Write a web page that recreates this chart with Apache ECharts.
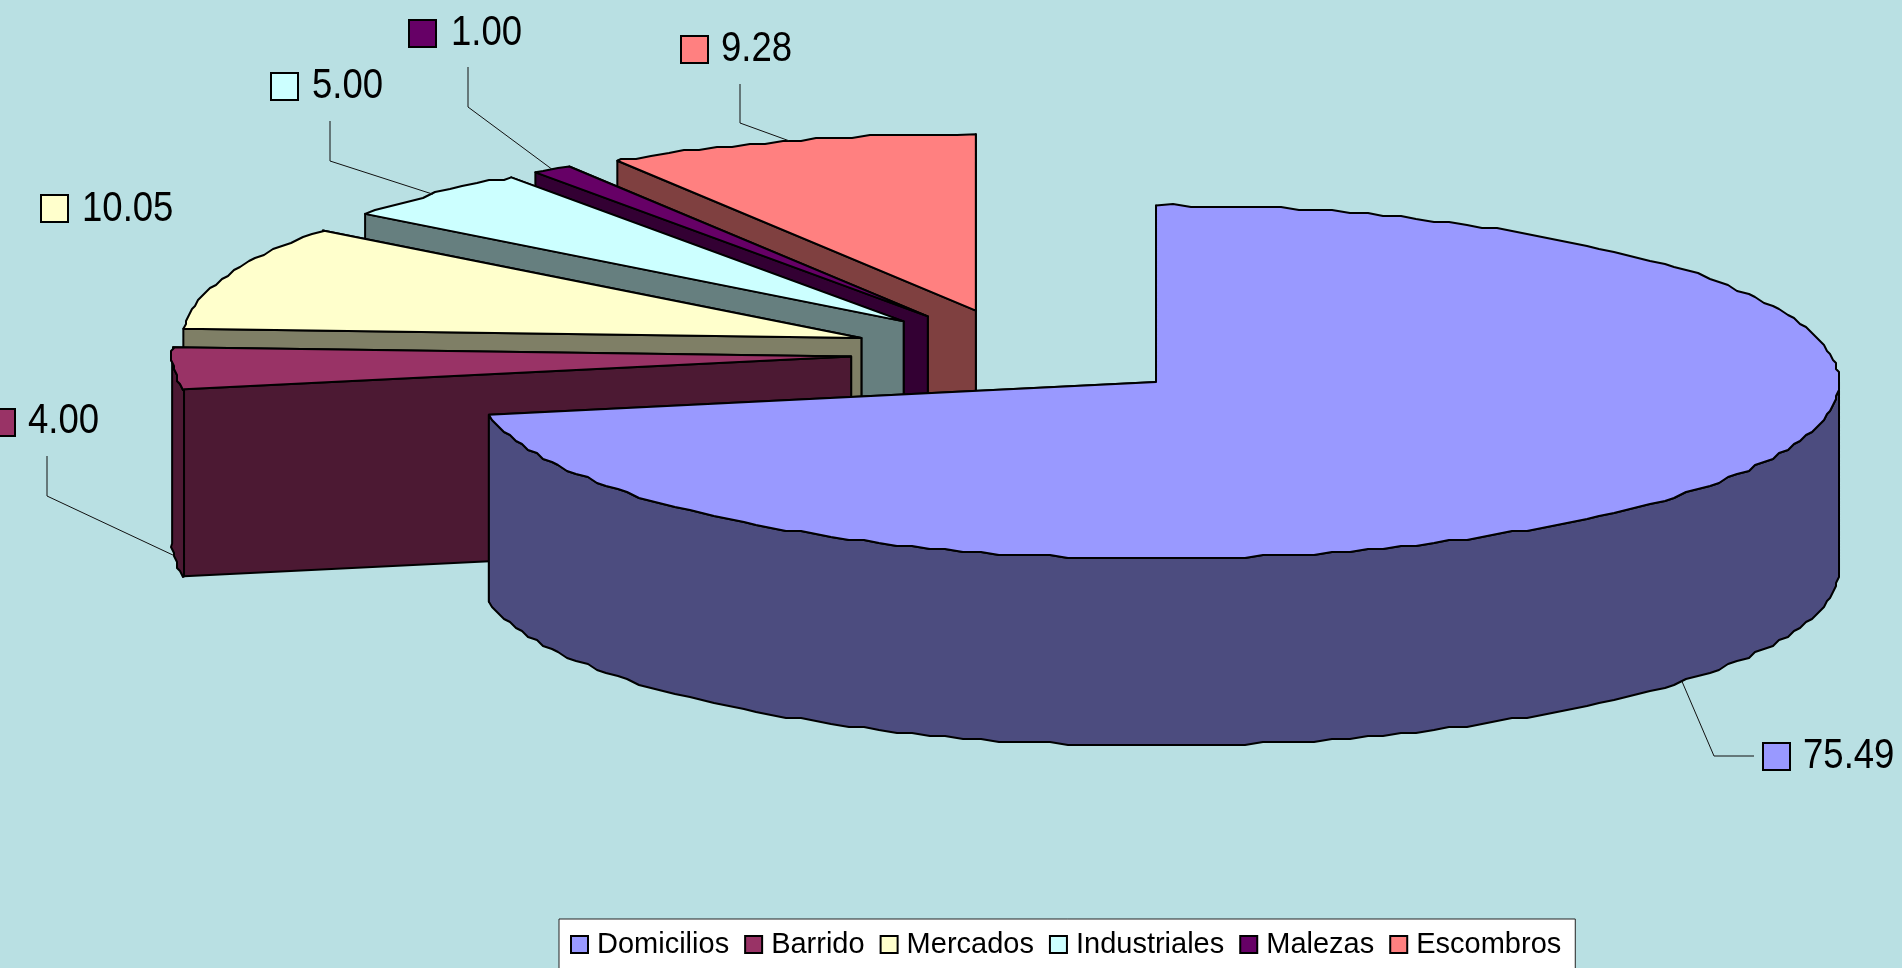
<!DOCTYPE html>
<html><head><meta charset="utf-8">
<style>html,body{margin:0;padding:0;background:#B9E0E3;overflow:hidden}#c{width:1902px;height:968px}</style>
<script src="https://cdn.jsdelivr.net/npm/echarts@6/dist/echarts.min.js"></script>
</head><body><div id="c"></div>
<script>
const categories = ['Domicilios','Barrido','Mercados','Industriales','Malezas','Escombros'];
const values = [75.49,4.00,10.05,5.00,1.00,9.28];
const topColors = ['#9999FF','#993366','#FFFFCC','#CCFFFF','#660066','#FF8080'];
const sideColors = ['#4C4C7F','#4C1933','#7F7F66','#667F7F','#330033','#7F4040'];

// layout of the projected pie (not data)
const pie = {cx:1023.2, cy:353.5, rx:683, rxLeft:679, ry:176.5, depth:187, explode:0.2525, step:1.5, snap:3};
// callout layout: key box left/top, text left, text centre y, elbow path start
const callouts = [
  {kx:1763,ky:743,tx:1803,ty:756,path:[[1754,756],[1714,756]]},
  {kx:-12,ky:409,tx:28,ty:421,path:[[47,456],[47,496]]},
  {kx:41,ky:195,tx:82,ty:209,path:null},
  {kx:271,ky:73,tx:312,ty:86,path:[[330,121],[330,161]]},
  {kx:409,ky:20,tx:451,ty:33,path:[[468,67],[468,107]]},
  {kx:681,ky:36,tx:721,ty:49,path:[[740,84],[740,123]]}
];
const total = values.reduce((a,b)=>a+b,0);
const rad = d => d*Math.PI/180;
const snap = v => Math.round(v/pie.snap)*pie.snap;

function sliceGeom(i){
  let a = 0;
  for(let k=0;k<i;k++) a += values[k]/total*360;
  const b = a + values[i]/total*360, m = (a+b)/2;
  const ox = pie.cx + pie.explode*pie.rx*Math.sin(rad(m));
  const oy = pie.cy - pie.explode*pie.ry*Math.cos(rad(m));
  const at = t => {
    const s = Math.sin(rad(t));
    return [ox+(s<0?pie.rxLeft:pie.rx)*s, oy-pie.ry*Math.cos(rad(t))];
  };
  const rim = (s,e) => {
    const pts=[at(s)];
    for(let t=Math.ceil(s/pie.step+1e-6)*pie.step;t<e-1e-6;t+=pie.step){
      const p=at(t), q=[snap(p[0]),snap(p[1])], l=pts[pts.length-1];
      if(q[0]!==l[0]||q[1]!==l[1]) pts.push(q);
    }
    pts.push(at(e));
    return pts;
  };
  return {a,b,m,ox,oy,at,rim};
}

function renderSlice(i){
  return function(params, api){
    const g = sliceGeom(i), d = pie.depth, kids = [];
    const edge = {stroke:'#000',lineWidth:2,lineJoin:'round'};
    const side = Object.assign({fill:sideColors[i]},edge);
    const down = p => [p[0],p[1]+d];
    const wall = t => { const r=g.at(t); return [[g.ox,g.oy],r,down(r),[g.ox,g.oy+d]]; };
    kids.push({type:'polygon',shape:{points:wall(g.b)},style:side});
    kids.push({type:'polygon',shape:{points:wall(g.a)},style:side});
    const s=Math.max(g.a,90), e=Math.min(g.b,270);
    if(e>s){
      const r=g.rim(s,e);
      kids.push({type:'polygon',shape:{points:r.concat(r.map(down).reverse())},style:side});
    }
    kids.push({type:'polygon',shape:{points:[[g.ox,g.oy]].concat(g.rim(g.a,g.b))},
      style:Object.assign({fill:topColors[i]},edge)});
    const c = callouts[i];
    if(c.path){
      const r=g.at(g.m), anchor = Math.cos(rad(g.m))<0 ? down(r) : r;
      kids.push({type:'polyline',shape:{points:c.path.concat([anchor])},style:{stroke:'#111',lineWidth:1,fill:null}});
    }
    kids.push({type:'rect',shape:{x:c.kx,y:c.ky,width:27,height:27},
      style:{fill:topColors[i],stroke:'#000',lineWidth:2}});
    kids.push({type:'text',x:c.tx,y:c.ty,scaleX:0.87,
      style:{text:api.value(0).toFixed(2),x:0,y:0,
      font:'42px "Liberation Sans",Arial,sans-serif',fill:'#000',
      textAlign:'left',textVerticalAlign:'middle'}});
    return {type:'group',children:kids};
  };
}

const chart = echarts.init(document.getElementById('c'),null,{renderer:'canvas'});
chart.setOption({
  animation:false,
  backgroundColor:'#B9E0E3',
  legend:{
    left:559, top:919,
    padding:[11,14,40,11],
    itemWidth:17,itemHeight:17,itemGap:15,
    backgroundColor:'#FFFFFF',borderColor:'#222',borderWidth:1,
    icon:'rect',
    itemStyle:{borderColor:'#000',borderWidth:2},
    textStyle:{color:'#000',fontFamily:'"Liberation Sans",Arial,sans-serif',fontSize:29,padding:[0,0,0,4]},
    selectedMode:false,
    data:categories
  },
  series:categories.map((name,i)=>({
    type:'custom',name,coordinateSystem:'none',silent:true,
    z:10+(categories.length-i),
    itemStyle:{color:topColors[i]},
    data:[[values[i]]],
    renderItem:renderSlice(i)
  }))
});
</script></body></html>
